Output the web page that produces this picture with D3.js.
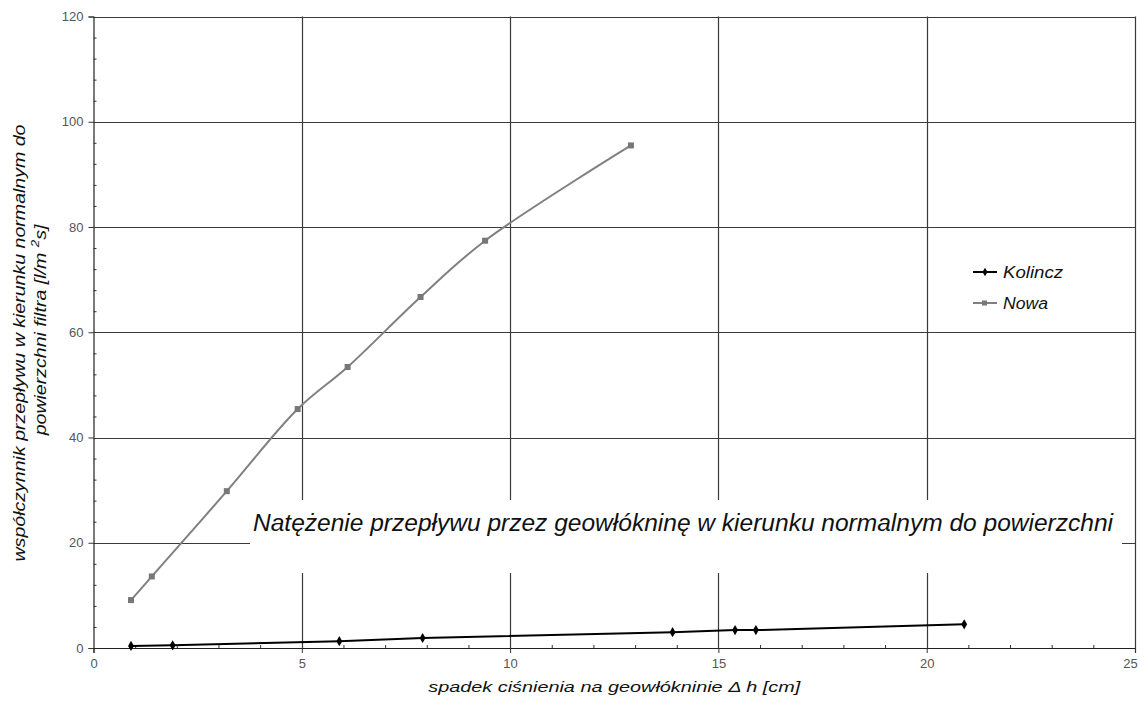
<!DOCTYPE html>
<html>
<head>
<meta charset="utf-8">
<script src="https://cdn.jsdelivr.net/npm/d3@7"></script>
<style>
  html, body { margin: 0; padding: 0; background: #fff; }
  svg { display: block; font-family: "Liberation Sans", Arial, sans-serif; }
</style>
</head>
<body>
<svg id="chart" width="1141" height="706"></svg>
<script>
// ---- data ----
const kolinczX = [0.9, 1.9, 5.9, 7.9, 13.9, 15.4, 15.9, 20.9];
const kolinczY = [0.4, 0.5, 1.3, 1.9, 3.0, 3.4, 3.4, 4.5];
const nowaX = [0.9, 1.4, 3.2, 4.9, 6.1, 7.85, 9.4, 12.9];
const nowaY = [9.1, 13.6, 29.8, 45.4, 53.4, 66.7, 77.4, 95.5];
const xTicks = [0, 5, 10, 15, 20, 25];
const yTicks = [0, 20, 40, 60, 80, 100, 120];
const seriesNames = ["Kolincz", "Nowa"];
const titleText = "Natężenie przepływu przez geowłókninę w kierunku normalnym do powierzchni";
const xLabel = "spadek ciśnienia na geowłókninie \u0394 h [cm]";
const yLabel1 = "współczynnik przepływu w kierunku normalnym do";
const yLabel2a = "powierzchni filtra [l/m ";
const yLabel2sup = "2";
const yLabel2b = "s]";

const svg = d3.select("#chart");
const L = 93.5, R = 1135, T = 16.5, B = 648;
const x = d3.scaleLinear().domain([0, 25]).range([L, R]);
const y = d3.scaleLinear().domain([0, 120]).range([B, T]);

const gridColor = "#3a3a3a";

// gridlines
const grid = svg.append("g");
grid.selectAll("line.h").data(yTicks.filter(d => d > 0)).join("line")
  .attr("x1", L).attr("x2", R)
  .attr("y1", d => Math.round(y(d)) + 0.5).attr("y2", d => Math.round(y(d)) + 0.5)
  .attr("stroke", gridColor).attr("stroke-width", 1.2);
grid.selectAll("line.v").data(xTicks.filter(d => d > 0)).join("line")
  .attr("y1", T).attr("y2", B)
  .attr("x1", d => Math.round(x(d)) + 0.5).attr("x2", d => Math.round(x(d)) + 0.5)
  .attr("stroke", gridColor).attr("stroke-width", 1.2);

// axes
const xAxis = svg.append("g").attr("transform", `translate(0,${B})`)
  .call(d3.axisBottom(x).tickValues(xTicks).tickSize(5).tickPadding(6).tickFormat(d3.format("d")));
const xMinor = svg.append("g").attr("transform", `translate(0,${B})`)
  .call(d3.axisTop(x).tickValues(d3.range(0, 26, 1).filter(d => d % 5 !== 0)).tickSize(3).tickFormat(""));
const yAxis = svg.append("g").attr("transform", `translate(${L},0)`)
  .call(d3.axisLeft(y).tickValues(yTicks).tickSize(5).tickPadding(5).tickFormat(d3.format("d")));
const yMinor = svg.append("g").attr("transform", `translate(${L},0)`)
  .call(d3.axisRight(y).tickValues(d3.range(0, 121, 4).filter(d => d % 20 !== 0)).tickSize(3).tickFormat(""));
[xAxis, yAxis, xMinor, yMinor].forEach(g => {
  g.select(".domain").attr("stroke", "#222").attr("stroke-width", 1.2);
  g.selectAll(".tick line").attr("stroke", "#333");
  g.selectAll(".tick text").attr("fill", "#555").attr("font-size", 13)
    .attr("font-family", "Liberation Sans, Arial, sans-serif");
});
xAxis.selectAll(".tick text").filter(d => d === 25).attr("dx", -5);
xMinor.select(".domain").remove();
yMinor.select(".domain").remove();

// title box (white background covers gridlines)
const titleG = svg.append("g");
titleG.append("rect").attr("x", 250).attr("y", 500).attr("width", 872).attr("height", 73).attr("fill", "#fff");
titleG.append("text").attr("x", 253).attr("y", 531).attr("text-anchor", "start")
  .attr("font-size", 23).attr("font-style", "italic").attr("fill", "#111")
  .attr("textLength", 860).attr("lengthAdjust", "spacingAndGlyphs").text(titleText);

// series
const kData = kolinczX.map((d, i) => [d, kolinczY[i]]);
const nData = nowaX.map((d, i) => [d, nowaY[i]]);
const line = d3.line().x(d => x(d[0])).y(d => y(d[1]));
const smooth = d3.line().x(d => x(d[0])).y(d => y(d[1])).curve(d3.curveCatmullRom.alpha(0.5));

svg.append("path").datum(nData).attr("d", smooth).attr("fill", "none")
  .attr("stroke", "#808080").attr("stroke-width", 2);
svg.append("g").selectAll("rect").data(nData).join("rect")
  .attr("x", d => x(d[0]) - 3).attr("y", d => y(d[1]) - 3)
  .attr("width", 6).attr("height", 6).attr("fill", "#777");

svg.append("path").datum(kData).attr("d", line).attr("fill", "none")
  .attr("stroke", "#000").attr("stroke-width", 2);
const diamond = d3.symbol().type(d3.symbolDiamond).size(30);
svg.append("g").selectAll("path").data(kData).join("path")
  .attr("transform", d => `translate(${x(d[0])},${y(d[1])})`)
  .attr("d", diamond).attr("fill", "#000");

// legend
const leg = svg.append("g");
const legColors = ["#000", "#808080"];
const legY = [272, 303];
const legW = [60, 45];
seriesNames.forEach((name, i) => {
  const ly = legY[i];
  leg.append("line").attr("x1", 973).attr("x2", 997).attr("y1", ly).attr("y2", ly)
    .attr("stroke", legColors[i]).attr("stroke-width", 2);
  if (i === 0) {
    leg.append("path").attr("transform", `translate(985,${ly})`).attr("d", d3.symbol().type(d3.symbolDiamond).size(22)).attr("fill", "#000");
  } else {
    leg.append("rect").attr("x", 982).attr("y", ly - 2.5).attr("width", 5).attr("height", 5).attr("fill", "#777");
  }
  leg.append("text").attr("x", 1003).attr("y", ly + 5.5).attr("font-size", 16)
    .attr("font-style", "italic").attr("fill", "#111")
    .attr("textLength", legW[i]).attr("lengthAdjust", "spacingAndGlyphs").text(name);
});

// axis titles
svg.append("text").attr("x", (L + R) / 2).attr("y", 692).attr("text-anchor", "middle")
  .attr("font-size", 15.5).attr("font-style", "italic").attr("fill", "#111")
  .attr("textLength", 372).attr("lengthAdjust", "spacingAndGlyphs").text(xLabel);

const yl1 = svg.append("g").attr("transform", "translate(0,343) rotate(-90)");
const t1 = yl1.append("text").attr("x", 0).attr("y", 25).attr("text-anchor", "middle")
  .attr("font-size", 16).attr("font-style", "italic").attr("fill", "#111").text(yLabel1);
const nat1 = t1.node().getComputedTextLength();
const k = 437 / nat1;
t1.attr("textLength", 437).attr("lengthAdjust", "spacingAndGlyphs");
const yl2 = svg.append("g").attr("transform", "translate(0,330) rotate(-90)");
const t2 = yl2.append("text").attr("x", 0).attr("y", 46).attr("text-anchor", "middle")
  .attr("font-size", 16).attr("font-style", "italic").attr("fill", "#111");
t2.append("tspan").text(yLabel2a);
t2.append("tspan").attr("dy", -7).attr("font-size", 11).text(yLabel2sup);
t2.append("tspan").attr("dy", 7).text(yLabel2b);
const nat2 = t2.node().getComputedTextLength();
t2.attr("textLength", nat2 * k).attr("lengthAdjust", "spacingAndGlyphs");
</script>
</body>
</html>
